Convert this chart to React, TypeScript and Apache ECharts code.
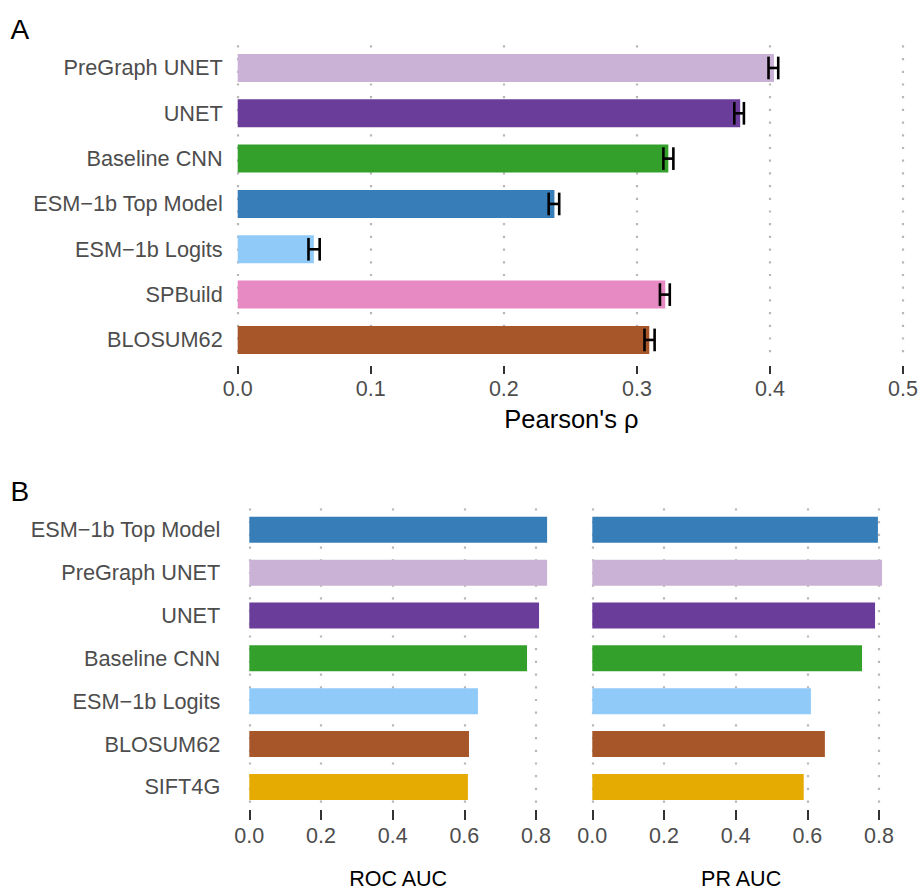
import React, { useEffect, useRef } from "react";
import * as echarts from "echarts";

// ---------- Panel A data ----------
const catsA = [
  "PreGraph UNET",
  "UNET",
  "Baseline CNN",
  "ESM\u22121b Top Model",
  "ESM\u22121b Logits",
  "SPBuild",
  "BLOSUM62",
];
const pearsonA = [0.403, 0.3776, 0.3236, 0.238, 0.0572, 0.3213, 0.3093];
const errLowA = [0.3989, 0.3732, 0.3199, 0.2337, 0.0532, 0.3173, 0.3057];
const errHighA = [0.4062, 0.3804, 0.3274, 0.2416, 0.0616, 0.3247, 0.3133];
const colorsA = ["#CAB2D6", "#6A3D9A", "#33A02C", "#377EB8", "#90CAF9", "#E78AC3", "#A65628"];
const ticksA = [0, 0.1, 0.2, 0.3, 0.4, 0.5];

// ---------- Panel B data ----------
const catsB = [
  "ESM\u22121b Top Model",
  "PreGraph UNET",
  "UNET",
  "Baseline CNN",
  "ESM\u22121b Logits",
  "BLOSUM62",
  "SIFT4G",
];
const rocAuc = [0.831, 0.831, 0.8085, 0.775, 0.638, 0.613, 0.61];
const prAuc = [0.797, 0.8085, 0.789, 0.7527, 0.61, 0.649, 0.59];
const colorsB = ["#377EB8", "#CAB2D6", "#6A3D9A", "#33A02C", "#90CAF9", "#A65628", "#E6AB02"];
const ticksB = [0, 0.2, 0.4, 0.6, 0.8];

const FONT = "Liberation Sans, Arial, Helvetica, sans-serif";
const GREY = "#4d4d4d";

const dotted = {
  show: true,
  lineStyle: { color: "#b8b8b8", width: 2.2, type: [2.2, 10.5] as any, cap: "butt" as any },
};

function makeXAxis(gridIndex: number, max: number, interval: number, offset: number, tickLen: number, margin: number, name: string, nameGap: number, nameSize: number, namePadLeft: number) {
  return {
    type: "value",
    gridIndex,
    min: 0,
    max,
    interval,
    offset,
    axisLine: { show: false },
    axisTick: { show: true, length: tickLen, lineStyle: { color: "#333333", width: 2 } },
    axisLabel: {
      margin,
      color: GREY,
      fontSize: 21.5,
      fontFamily: FONT,
      formatter: (v: number) => v.toFixed(1),
    },
    splitLine: dotted,
    name,
    nameLocation: "middle",
    nameGap,
    nameTextStyle: {
      color: "#000",
      fontSize: nameSize,
      fontFamily: FONT,
      padding: [0, 0, 0, namePadLeft],
    },
  };
}

function makeYAxis(gridIndex: number, cats: string[], showLabels: boolean, margin: number) {
  return {
    type: "category",
    gridIndex,
    data: cats,
    inverse: true,
    axisLine: { show: false },
    axisTick: { show: false },
    splitLine: { show: false },
    axisLabel: {
      show: showLabels,
      margin,
      color: GREY,
      fontSize: 21.7,
      fontFamily: FONT,
    },
  };
}

export default function App() {
  const ref = useRef<HTMLDivElement>(null);

  useEffect(() => {
    if (!ref.current) return;
    const chart = echarts.init(ref.current, null, { renderer: "svg" });

    const errData = errLowA.map((l, i) => [l, errHighA[i], i]);

    const option: any = {
      animation: false,
      backgroundColor: "#ffffff",
      grid: [
        { left: 237.7, right: 17, top: 45.3, height: 317.3 },
        { left: 249.3, width: 286.7, top: 508.4, height: 302.2 },
        { left: 592.3, width: 286.7, top: 508.4, height: 302.2 },
      ],
      xAxis: [
        makeXAxis(0, ticksA[ticksA.length - 1], 0.1, 3.3, 8, 12.5, "Pearson's \u03C1", 40.5, 25.5, 2),
        makeXAxis(1, ticksB[ticksB.length - 1], 0.2, 1.7, 10, 14.5, "ROC AUC", 58, 21.5, 11),
        makeXAxis(2, ticksB[ticksB.length - 1], 0.2, 1.7, 10, 14.5, "PR AUC", 58, 21.5, 11),
      ],
      yAxis: [
        makeYAxis(0, catsA, true, 15),
        makeYAxis(1, catsB, true, 29),
        makeYAxis(2, catsB, false, 10),
      ],
      series: [
        {
          type: "bar",
          xAxisIndex: 0,
          yAxisIndex: 0,
          barWidth: 28,
          clip: false,
          data: pearsonA.map((v, i) => ({ value: v, itemStyle: { color: colorsA[i] } })),
        },
        {
          type: "custom",
          xAxisIndex: 0,
          yAxisIndex: 0,
          z: 5,
          clip: false,
          encode: { x: [0, 1], y: 2 },
          data: errData,
          renderItem: (params: any, api: any) => {
            const lo = api.coord([api.value(0), api.value(2)]);
            const hi = api.coord([api.value(1), api.value(2)]);
            const band = api.size([0, 1])[1];
            const h = band * 0.25;
            const style = { stroke: "#000000", lineWidth: 2.6 };
            return {
              type: "group",
              children: [
                { type: "line", shape: { x1: lo[0], y1: lo[1] - h, x2: lo[0], y2: lo[1] + h }, style },
                { type: "line", shape: { x1: hi[0], y1: hi[1] - h, x2: hi[0], y2: hi[1] + h }, style },
                { type: "line", shape: { x1: lo[0], y1: lo[1], x2: hi[0], y2: hi[1] }, style },
              ],
            };
          },
        },
        {
          type: "bar",
          xAxisIndex: 1,
          yAxisIndex: 1,
          barWidth: 26,
          clip: false,
          data: rocAuc.map((v, i) => ({ value: v, itemStyle: { color: colorsB[i] } })),
        },
        {
          type: "bar",
          xAxisIndex: 2,
          yAxisIndex: 2,
          barWidth: 26,
          clip: false,
          data: prAuc.map((v, i) => ({ value: v, itemStyle: { color: colorsB[i] } })),
        },
      ],
      graphic: [
        {
          type: "text",
          left: 10.5,
          top: 15,
          style: { text: "A", fontSize: 28, fontFamily: FONT, fill: "#000" },
        },
        {
          type: "text",
          left: 10.5,
          top: 477,
          style: { text: "B", fontSize: 28, fontFamily: FONT, fill: "#000" },
        },
      ],
    };

    chart.setOption(option);
    return () => chart.dispose();
  }, []);

  return (
    <div
      ref={ref}
      style={{ position: "fixed", left: 0, top: 0, width: 921, height: 891, background: "#fff" }}
    />
  );
}
